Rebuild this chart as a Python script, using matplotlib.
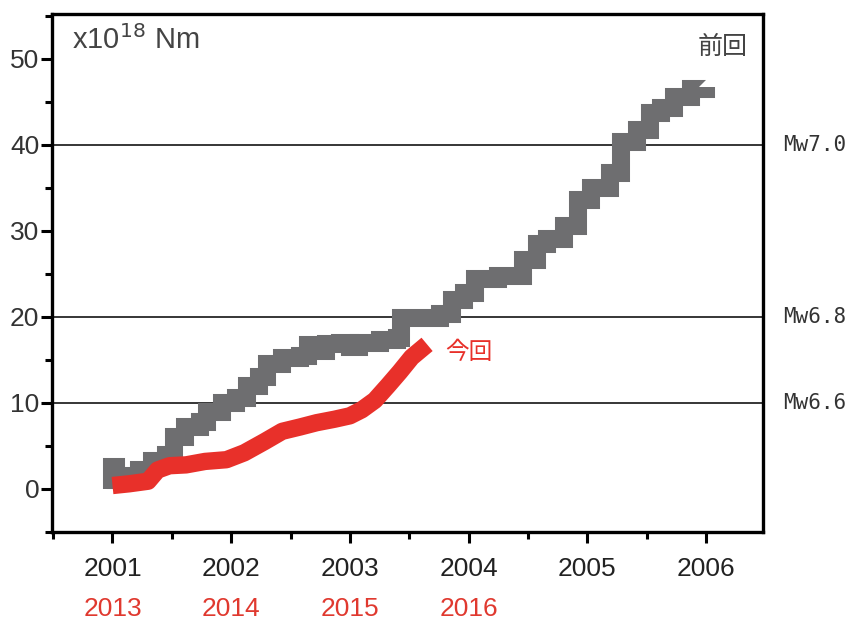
import matplotlib
matplotlib.use('Agg')
import matplotlib.pyplot as plt
from matplotlib.ticker import MultipleLocator
import matplotlib.transforms as mtransforms

# previous sequence (gray), stepped cumulative moment
prev_years = [2001.00, 2001.00, 2001.03, 2001.13, 2001.22, 2001.33, 2001.45, 2001.52,
              2001.61, 2001.74, 2001.80, 2001.92, 2002.04, 2002.13, 2002.23, 2002.30,
              2002.43, 2002.58, 2002.65, 2002.72, 2002.80, 2002.92, 2003.00, 2003.08,
              2003.25, 2003.40, 2003.43, 2003.76, 2003.86, 2003.96, 2004.05, 2004.25,
              2004.46, 2004.58, 2004.66, 2004.80, 2004.92, 2005.03, 2005.19, 2005.28,
              2005.42, 2005.53, 2005.62, 2005.73, 2005.87, 2006.00]
prev_vals = [0.0, 2.6, 1.0, 1.5, 2.2, 3.2, 4.0, 6.0,
             7.2, 7.8, 9.0, 10.0, 10.6, 12.0, 13.0, 14.5,
             15.2, 15.5, 16.7, 16.0, 16.8, 17.0, 16.5, 17.0,
             17.3, 17.5, 19.9, 20.3, 22.0, 22.8, 24.4, 24.8,
             26.6, 28.5, 29.0, 30.5, 33.6, 35.0, 36.7, 40.3,
             41.7, 43.7, 44.3, 45.5, 46.5, 46.7]

# current sequence (red)
curr_years = [2001.00, 2001.14, 2001.30, 2001.38, 2001.48, 2001.62, 2001.78, 2001.96,
              2002.11, 2002.28, 2002.43, 2002.58, 2002.72, 2002.87, 2003.00, 2003.10,
              2003.21, 2003.32, 2003.42, 2003.52, 2003.65]
curr_vals = [0.4, 0.6, 0.9, 2.2, 2.7, 2.8, 3.2, 3.4,
             4.2, 5.5, 6.7, 7.2, 7.7, 8.1, 8.5, 9.2,
             10.3, 12.0, 13.6, 15.3, 16.8]

mw_levels = [10, 20, 40]
mw_labels = ['Mw6.6', 'Mw6.8', 'Mw7.0']

prev_ticks = [2001, 2002, 2003, 2004, 2005, 2006]
curr_tick_labels = ['2013', '2014', '2015', '2016']

gray = '#6e6e70'
red = '#e8302a'

fig = plt.figure(figsize=(8.49, 6.22), dpi=100)
ax = fig.add_axes([0.0612, 0.1447, 0.8375, 0.833])

for lv in mw_levels:
    ax.axhline(lv, color='black', lw=1.1, zorder=1)

ax.plot(prev_years, prev_vals, drawstyle='steps-post', color=gray, lw=13,
        solid_joinstyle='miter', solid_capstyle='butt', zorder=2)
ax.plot(curr_years, curr_vals, color=red, lw=12.5,
        solid_capstyle='butt', solid_joinstyle='round', zorder=3)

ax.set_xlim(2000.49, 2006.48)
ax.set_ylim(-5, 55.2)

ax.xaxis.set_minor_locator(MultipleLocator(0.5))
ax.yaxis.set_minor_locator(MultipleLocator(5))
ax.set_yticks([0, 10, 20, 30, 40, 50])
ax.set_xticks(prev_ticks)
ax.set_xticklabels([])

for sp in ax.spines.values():
    sp.set_linewidth(2.4)
ax.tick_params(which='major', direction='out', length=8, width=2.2, labelsize=19,
               pad=1, labelcolor='#333333')
ax.tick_params(which='minor', direction='out', length=5, width=2.2)
for lab in ax.get_yticklabels():
    lab.set_family(['Liberation Sans', 'DejaVu Sans'])

trans = mtransforms.blended_transform_factory(ax.transData, ax.transAxes)
for yr in prev_ticks:
    ax.text(yr, -0.072, str(yr), transform=trans, ha='center', va='center',
            fontsize=19, color='#222222', family=['Liberation Sans Narrow', 'Liberation Sans'])
for yr, lab in zip(prev_ticks, curr_tick_labels):
    ax.text(yr, -0.148, lab, transform=trans, ha='center', va='center',
            fontsize=19, color='#e0392f', family=['Liberation Sans Narrow', 'Liberation Sans'])

ax.text(0.028, 0.95, r'x10$^{18}$ Nm', transform=ax.transAxes, ha='left', va='center',
        fontsize=21, color='#444444', family=['Liberation Sans', 'DejaVu Sans'])

mtrans = mtransforms.blended_transform_factory(ax.transAxes, ax.transData)
for lv, lab in zip(mw_levels, mw_labels):
    ax.text(1.028, lv, lab, transform=mtrans, ha='left', va='center', fontsize=15,
            color='#333333', family=['DejaVu Sans Mono'])

ax.text(2006.14, 51.4, '前回', ha='center', va='center', fontsize=18, color='#444444',
        family=['Noto Sans CJK JP', 'DejaVu Sans'])
ax.text(2004.0, 15.9, '今回', ha='center', va='center', fontsize=17, color=red,
        family=['Noto Sans CJK JP', 'DejaVu Sans'])

fig.savefig('out.png', dpi=100)
